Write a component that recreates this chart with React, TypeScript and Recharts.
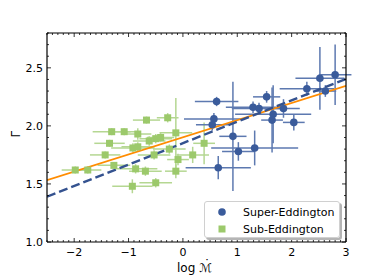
import React from "react";
import {
  ComposedChart,
  Scatter,
  Line,
  XAxis,
  YAxis,
  ErrorBar,
  Legend,
  Label
} from "recharts";

// Super-Eddington sample
const superX = [0.62, 0.57, 0.54, 0.65, 0.92, 1.02, 1.32, 1.29, 1.4, 1.54, 1.66, 1.64, 1.85, 2.04, 2.28, 2.52, 2.8, 2.62];
const superY = [2.21, 2.06, 2.01, 1.64, 1.91, 1.78, 1.81, 2.16, 2.15, 2.25, 2.1, 2.05, 2.15, 2.03, 2.32, 2.41, 2.44, 2.3];
const superXErr = [0.4, 0.55, 0.3, 0.6, 0.25, 0.3, 0.8, 0.5, 0.5, 0.25, 0.7, 0.2, 0.3, 0.2, 0.5, 0.45, 0.3, 0.2];
const superYErr = [0.04, 0.05, 0.05, 0.1, 0.47, 0.08, 0.15, 0.05, 0.05, 0.05, 0.25, 0.28, 0.08, 0.07, 0.06, 0.27, 0.26, 0.05];

// Sub-Eddington sample
const subX = [-1.31, -1.08, -0.83, -1.35, -1.43, -1.98, -1.75, -1.27, -0.87, -0.69, -0.93, -0.5, -0.92, -0.83, -0.62, -0.5, -0.53, -0.25, -0.13, -0.09, 0.18, -0.13, 0.39, -0.67, -0.28, -0.41];
const subY = [1.95, 1.95, 1.93, 1.85, 1.75, 1.62, 1.62, 1.66, 1.63, 1.61, 1.48, 1.51, 1.81, 1.82, 1.87, 1.89, 1.75, 1.8, 1.94, 1.71, 1.75, 1.61, 1.85, 2.05, 2.07, 1.9];
const subXErr = [0.35, 0.3, 0.25, 0.28, 0.28, 0.25, 0.25, 0.3, 0.4, 0.3, 0.37, 0.3, 0.4, 0.3, 0.3, 0.3, 0.3, 0.3, 0.3, 0.2, 0.3, 0.2, 0.2, 0.25, 0.2, 0.25];
const subYErr = [0.03, 0.03, 0.05, 0.03, 0.03, 0.03, 0.03, 0.03, 0.04, 0.04, 0.06, 0.04, 0.04, 0.04, 0.04, 0.04, 0.04, 0.04, 0.3, 0.05, 0.07, 0.06, 0.18, 0.03, 0.04, 0.04];

// fitted relations, sampled at the plot edges
const fitX = [-2.5, 3];
const fitAll = [1.533, 2.345];
const fitSuper = [1.39, 2.405];

const xMajor = [-2, -1, 0, 1, 2, 3];
const yMajor = [1.0, 1.5, 2.0, 2.5];
const xTicks = Array.from({ length: 56 }, (_, i) => Math.round((-2.5 + i * 0.1) * 10) / 10);
const yTicks = Array.from({ length: 19 }, (_, i) => Math.round((1.0 + i * 0.1) * 10) / 10);

const BLUE = "#3a5b9b";
const BLUE_ERR = "#5d79b0";
const GREEN = "#9cc96b";
const GREEN_ERR = "#b5d792";
const ORANGE = "#ff8c00";

const superData = superX.map((x, i) => ({ x, y: superY[i], ex: superXErr[i], ey: superYErr[i] }));
const subData = subX.map((x, i) => ({ x, y: subY[i], ex: subXErr[i], ey: subYErr[i] }));
const fitData = fitX.map((x, i) => ({ x, all: fitAll[i], sup: fitSuper[i] }));

const isMajor = (v: number, list: number[]) => list.some((m) => Math.abs(m - v) < 1e-6);
const fmtX = (v: number) => (v < 0 ? "\u2212" + Math.abs(v) : String(v));

const font = "DejaVu Sans, sans-serif";

function XTick(props: any) {
  const { x, y, payload, side } = props;
  const major = isMajor(payload.value, xMajor);
  const len = major ? 4 : 2;
  const dir = side === "bottom" ? -1 : 1;
  return (
    <g>
      <line x1={x} x2={x} y1={y} y2={y + dir * len} stroke="#000" strokeWidth={0.8} />
      {side === "bottom" && major && (
        <text x={x} y={y + 14} textAnchor="middle" fontSize={11} fontFamily={font} fill="#000">
          {fmtX(payload.value)}
        </text>
      )}
    </g>
  );
}

function YTick(props: any) {
  const { x, y, payload, side } = props;
  const major = isMajor(payload.value, yMajor);
  const len = major ? 4 : 2;
  const dir = side === "left" ? 1 : -1;
  return (
    <g>
      <line x1={x} x2={x + dir * len} y1={y} y2={y} stroke="#000" strokeWidth={0.8} />
      {side === "left" && major && (
        <text x={x - 4} y={y + 4} textAnchor="end" fontSize={11} fontFamily={font} fill="#000">
          {payload.value.toFixed(1)}
        </text>
      )}
    </g>
  );
}

function XLabel(props: any) {
  const vb = props.viewBox;
  const cx = vb.x + vb.width / 2 - 2;
  const by = vb.y + vb.height - 6;
  return (
    <text x={cx} y={by} textAnchor="middle" fontSize={12} fontFamily={font} fill="#000">
      log{" "}
      <tspan fontStyle="italic">{"\u2133"}</tspan>
      <tspan dx={-8} dy={-4}>{"\u02D9"}</tspan>
    </text>
  );
}

const Dot = (p: any) => <circle cx={p.cx} cy={p.cy} r={3.8} fill={BLUE} />;
const Square = (p: any) => <rect x={p.cx - 3.5} y={p.cy - 3.5} width={7} height={7} fill={GREEN} />;

function LegendBox() {
  return (
    <div
      style={{
        width: 134,
        height: 35,
        border: "1px solid #d0d0d0",
        borderRadius: 3,
        background: "rgba(255,255,255,0.9)",
        boxShadow: "2px 2px 0 #b5b5b5",
        fontFamily: font,
        fontSize: 11,
        color: "#000",
        position: "relative"
      }}
    >
      <svg width={134} height={35} style={{ position: "absolute", left: 0, top: 0 }}>
        <circle cx={17} cy={10} r={3.8} fill={BLUE} />
        <rect x={13.5} y={23.5} width={7} height={7} fill={GREEN} />
        <text x={38} y={14} fontSize={11} fontFamily={font}>Super-Eddington</text>
        <text x={38} y={31} fontSize={11} fontFamily={font}>Sub-Eddington</text>
      </svg>
    </div>
  );
}

export default function App() {
  return (
    <div style={{ position: "absolute", left: 0, top: 0, width: 383, height: 278, background: "#fff" }}>
      <ComposedChart width={383} height={278} margin={{ top: 0, right: 0, bottom: 0, left: 0 }}>
        <XAxis
          xAxisId="b"
          type="number"
          dataKey="x"
          orientation="bottom"
          domain={[-2.5, 3]}
          ticks={xTicks}
          interval={0}
          allowDataOverflow
          height={36}
          tickSize={0}
          tickMargin={0}
          tickLine={false}
          axisLine={{ stroke: "#000", strokeWidth: 1.2 }}
          tick={(p: any) => <XTick {...p} side="bottom" />}
        >
          <Label content={XLabel} />
        </XAxis>
        <XAxis
          xAxisId="t"
          type="number"
          dataKey="x"
          orientation="top"
          domain={[-2.5, 3]}
          ticks={xTicks}
          interval={0}
          allowDataOverflow
          height={33}
          tickSize={0}
          tickMargin={0}
          tickLine={false}
          axisLine={{ stroke: "#000", strokeWidth: 1.2 }}
          tick={(p: any) => <XTick {...p} side="top" />}
        />
        <YAxis
          yAxisId="l"
          type="number"
          orientation="left"
          domain={[1.0, 2.8]}
          ticks={yTicks}
          interval={0}
          allowDataOverflow
          width={47}
          tickSize={0}
          tickMargin={0}
          tickLine={false}
          axisLine={{ stroke: "#000", strokeWidth: 1.2 }}
          tick={(p: any) => <YTick {...p} side="left" />}
        >
          <Label value={"\u0393"} angle={-90} position="insideLeft" offset={16} fontSize={12} fontFamily={font} fill="#000" />
        </YAxis>
        <YAxis
          yAxisId="r"
          type="number"
          orientation="right"
          domain={[1.0, 2.8]}
          ticks={yTicks}
          interval={0}
          allowDataOverflow
          width={37}
          tickSize={0}
          tickMargin={0}
          tickLine={false}
          axisLine={{ stroke: "#000", strokeWidth: 1.2 }}
          tick={(p: any) => <YTick {...p} side="right" />}
        />
        <Scatter
          name="Sub-Eddington"
          data={subData}
          dataKey="y"
          xAxisId="b"
          yAxisId="l"
          shape={Square}
          isAnimationActive={false}
        >
          <ErrorBar dataKey="ex" direction="x" width={0} stroke={GREEN_ERR} strokeWidth={1.5} />
          <ErrorBar dataKey="ey" direction="y" width={0} stroke={GREEN_ERR} strokeWidth={1.5} />
        </Scatter>
        <Scatter
          name="Super-Eddington"
          data={superData}
          dataKey="y"
          xAxisId="b"
          yAxisId="l"
          shape={Dot}
          isAnimationActive={false}
        >
          <ErrorBar dataKey="ex" direction="x" width={0} stroke={BLUE_ERR} strokeWidth={1.5} />
          <ErrorBar dataKey="ey" direction="y" width={0} stroke={BLUE_ERR} strokeWidth={1.5} />
        </Scatter>
        <Line
          data={fitData}
          dataKey="all"
          xAxisId="b"
          yAxisId="l"
          stroke={ORANGE}
          strokeWidth={1.6}
          dot={false}
          activeDot={false}
          isAnimationActive={false}
        />
        <Line
          data={fitData}
          dataKey="sup"
          xAxisId="b"
          yAxisId="l"
          stroke="#34528f"
          strokeWidth={2.4}
          strokeDasharray="9 4"
          dot={false}
          activeDot={false}
          isAnimationActive={false}
        />
        <Legend
          layout="vertical"
          align="center"
          verticalAlign="middle"
          wrapperStyle={{ left: 204, top: 201, width: 136, height: 37 }}
          content={() => <LegendBox />}
        />
      </ComposedChart>
    </div>
  );
}
